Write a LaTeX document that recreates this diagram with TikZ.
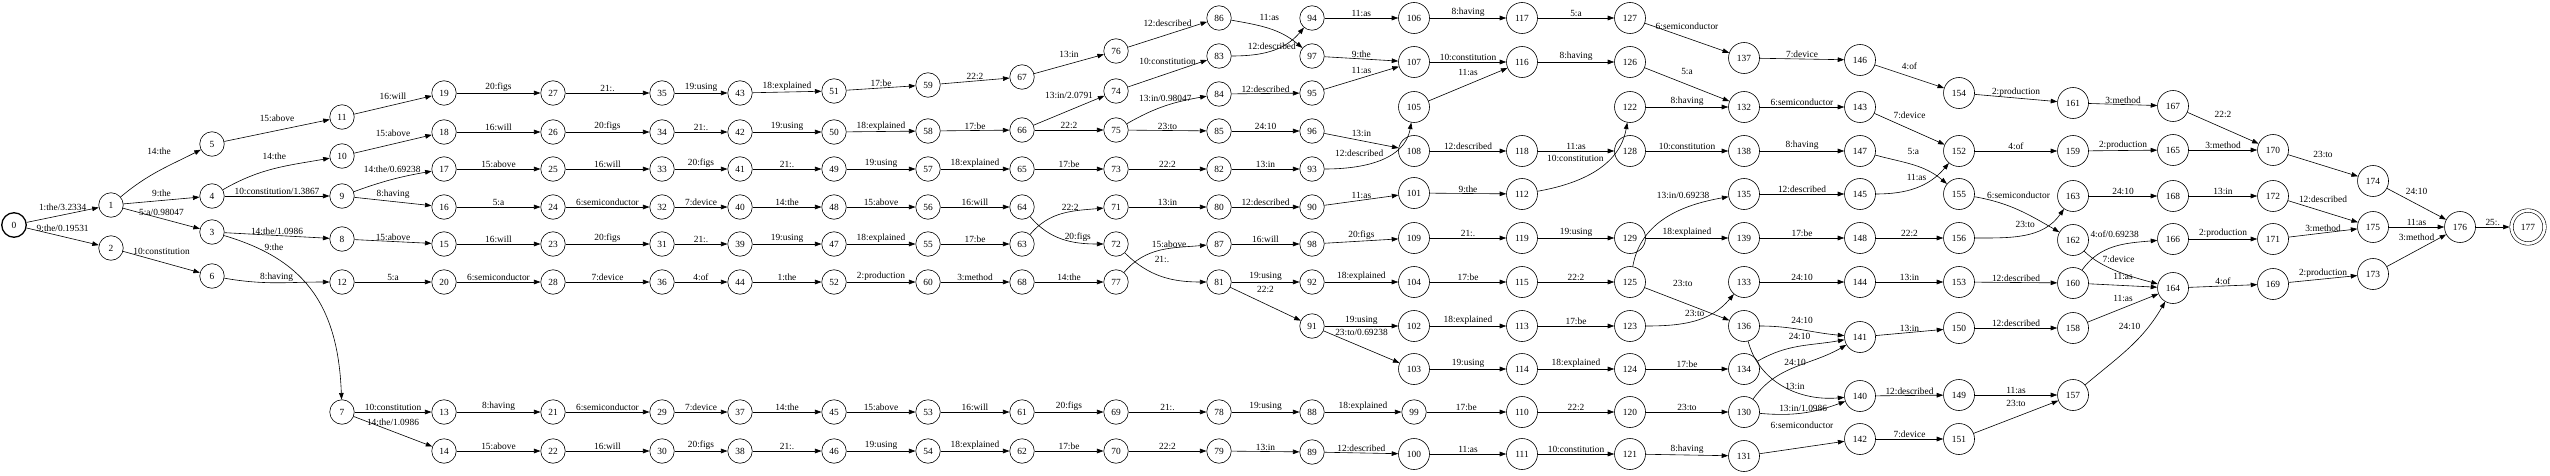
\documentclass[tikz,border=0pt]{standalone}
\usepackage{fontspec}
\setmainfont{Liberation Serif}
\usetikzlibrary{arrows.meta}

\begin{document}
\begin{tikzpicture}[x=1pt, y=1pt,
  font=\fontsize{9.4}{11}\selectfont,
  >={Triangle[length=6.5pt,width=4.6pt]},
  fststate/.style={draw, circle, minimum size=24.5pt, inner sep=0pt, line width=0.6pt},
  fstwide/.style={fststate, minimum size=31pt},
  startstate/.style={fststate, line width=1.3pt},
  finalstate/.style={fststate, minimum size=33pt, double, double distance=2.8pt, outer sep=2pt},
  trans/.style={->, line width=0.6pt},
  lbl/.style={above, inner sep=1pt}]
\useasboundingbox (0,0) rectangle (2550,475);
\node[startstate] (s0) at (14,250) {0};
\node[fststate] (s1) at (111,270) {1};
\node[fststate] (s2) at (111,227) {2};
\node[fststate] (s5) at (212,331) {5};
\node[fststate] (s4) at (212,279) {4};
\node[fststate] (s3) at (212,243) {3};
\node[fststate] (s6) at (212,199) {6};
\node[fststate] (s11) at (342,358) {11};
\node[fststate] (s10) at (342,319) {10};
\node[fststate] (s9) at (342,279) {9};
\node[fststate] (s8) at (342,236) {8};
\node[fststate] (s12) at (342,193) {12};
\node[fststate] (s7) at (342,63) {7};
\node[fststate] (s19) at (444,382) {19};
\node[fststate] (s18) at (444,343) {18};
\node[fststate] (s17) at (444,306) {17};
\node[fststate] (s16) at (444,268) {16};
\node[fststate] (s15) at (444,231) {15};
\node[fststate] (s20) at (444,193) {20};
\node[fststate] (s13) at (444,63) {13};
\node[fststate] (s14) at (444,24) {14};
\node[fststate] (s27) at (553,382) {27};
\node[fststate] (s26) at (553,343) {26};
\node[fststate] (s25) at (553,306) {25};
\node[fststate] (s24) at (553,268) {24};
\node[fststate] (s23) at (553,231) {23};
\node[fststate] (s28) at (553,193) {28};
\node[fststate] (s21) at (553,63) {21};
\node[fststate] (s22) at (553,24) {22};
\node[fststate] (s35) at (662,382) {35};
\node[fststate] (s34) at (662,343) {34};
\node[fststate] (s33) at (662,306) {33};
\node[fststate] (s32) at (662,268) {32};
\node[fststate] (s31) at (662,231) {31};
\node[fststate] (s36) at (662,193) {36};
\node[fststate] (s29) at (662,63) {29};
\node[fststate] (s30) at (662,24) {30};
\node[fststate] (s43) at (740,382) {43};
\node[fststate] (s42) at (740,343) {42};
\node[fststate] (s41) at (740,306) {41};
\node[fststate] (s40) at (740,268) {40};
\node[fststate] (s39) at (740,231) {39};
\node[fststate] (s44) at (740,193) {44};
\node[fststate] (s37) at (740,63) {37};
\node[fststate] (s38) at (740,24) {38};
\node[fststate] (s51) at (834,384) {51};
\node[fststate] (s50) at (834,343) {50};
\node[fststate] (s49) at (834,306) {49};
\node[fststate] (s48) at (834,268) {48};
\node[fststate] (s47) at (834,231) {47};
\node[fststate] (s52) at (834,193) {52};
\node[fststate] (s45) at (834,63) {45};
\node[fststate] (s46) at (834,24) {46};
\node[fststate] (s59) at (928,390) {59};
\node[fststate] (s58) at (928,344) {58};
\node[fststate] (s57) at (928,306) {57};
\node[fststate] (s56) at (928,268) {56};
\node[fststate] (s55) at (928,231) {55};
\node[fststate] (s60) at (928,193) {60};
\node[fststate] (s53) at (928,63) {53};
\node[fststate] (s54) at (928,24) {54};
\node[fststate] (s67) at (1022,398) {67};
\node[fststate] (s66) at (1022,345) {66};
\node[fststate] (s65) at (1022,306) {65};
\node[fststate] (s64) at (1022,268) {64};
\node[fststate] (s63) at (1022,231) {63};
\node[fststate] (s68) at (1022,193) {68};
\node[fststate] (s61) at (1022,63) {61};
\node[fststate] (s62) at (1022,24) {62};
\node[fststate] (s76) at (1116,424) {76};
\node[fststate] (s74) at (1116,384) {74};
\node[fststate] (s75) at (1116,345) {75};
\node[fststate] (s73) at (1116,306) {73};
\node[fststate] (s71) at (1116,268) {71};
\node[fststate] (s72) at (1116,231) {72};
\node[fststate] (s77) at (1116,193) {77};
\node[fststate] (s69) at (1116,63) {69};
\node[fststate] (s70) at (1116,24) {70};
\node[fststate] (s86) at (1219,457) {86};
\node[fststate] (s83) at (1219,419) {83};
\node[fststate] (s84) at (1219,381) {84};
\node[fststate] (s85) at (1219,344) {85};
\node[fststate] (s82) at (1219,306) {82};
\node[fststate] (s80) at (1219,268) {80};
\node[fststate] (s87) at (1219,231) {87};
\node[fststate] (s81) at (1219,193) {81};
\node[fststate] (s78) at (1219,63) {78};
\node[fststate] (s79) at (1219,24) {79};
\node[fststate] (s94) at (1312,457) {94};
\node[fststate] (s97) at (1312,419) {97};
\node[fststate] (s95) at (1312,382) {95};
\node[fststate] (s96) at (1312,344) {96};
\node[fststate] (s93) at (1312,306) {93};
\node[fststate] (s90) at (1312,268) {90};
\node[fststate] (s98) at (1312,231) {98};
\node[fststate] (s92) at (1312,193) {92};
\node[fststate] (s91) at (1312,149) {91};
\node[fststate] (s88) at (1312,63) {88};
\node[fststate] (s89) at (1312,23) {89};
\node[fstwide] (s106) at (1414,457) {106};
\node[fstwide] (s107) at (1414,413) {107};
\node[fstwide] (s105) at (1414,368) {105};
\node[fstwide] (s108) at (1414,324) {108};
\node[fstwide] (s101) at (1414,282) {101};
\node[fstwide] (s109) at (1414,237) {109};
\node[fstwide] (s104) at (1414,193) {104};
\node[fstwide] (s102) at (1414,149) {102};
\node[fstwide] (s103) at (1414,106) {103};
\node[fststate] (s99) at (1414,63) {99};
\node[fstwide] (s100) at (1414,21) {100};
\node[fstwide] (s117) at (1522,457) {117};
\node[fstwide] (s116) at (1522,413) {116};
\node[fstwide] (s118) at (1522,324) {118};
\node[fstwide] (s112) at (1522,281) {112};
\node[fstwide] (s119) at (1522,237) {119};
\node[fstwide] (s115) at (1522,193) {115};
\node[fstwide] (s113) at (1522,149) {113};
\node[fstwide] (s114) at (1522,106) {114};
\node[fstwide] (s110) at (1522,63) {110};
\node[fstwide] (s111) at (1522,21) {111};
\node[fstwide] (s127) at (1630,457) {127};
\node[fstwide] (s126) at (1630,413) {126};
\node[fstwide] (s122) at (1630,368) {122};
\node[fstwide] (s128) at (1630,324) {128};
\node[fstwide] (s129) at (1630,237) {129};
\node[fstwide] (s125) at (1630,193) {125};
\node[fstwide] (s123) at (1630,149) {123};
\node[fstwide] (s124) at (1630,106) {124};
\node[fstwide] (s120) at (1630,63) {120};
\node[fstwide] (s121) at (1630,21) {121};
\node[fstwide] (s137) at (1744,417) {137};
\node[fstwide] (s132) at (1744,368) {132};
\node[fstwide] (s138) at (1744,324) {138};
\node[fstwide] (s135) at (1744,281) {135};
\node[fstwide] (s139) at (1744,237) {139};
\node[fstwide] (s133) at (1744,193) {133};
\node[fstwide] (s136) at (1744,149) {136};
\node[fstwide] (s134) at (1744,106) {134};
\node[fstwide] (s130) at (1744,63) {130};
\node[fstwide] (s131) at (1744,19) {131};
\node[fstwide] (s146) at (1860,415) {146};
\node[fstwide] (s143) at (1860,368) {143};
\node[fstwide] (s147) at (1860,324) {147};
\node[fstwide] (s145) at (1860,281) {145};
\node[fstwide] (s148) at (1860,237) {148};
\node[fstwide] (s144) at (1860,193) {144};
\node[fstwide] (s141) at (1860,138) {141};
\node[fstwide] (s140) at (1860,79) {140};
\node[fstwide] (s142) at (1860,36) {142};
\node[fstwide] (s154) at (1959,382) {154};
\node[fstwide] (s152) at (1959,324) {152};
\node[fstwide] (s155) at (1959,281) {155};
\node[fstwide] (s156) at (1959,237) {156};
\node[fstwide] (s153) at (1959,193) {153};
\node[fstwide] (s150) at (1959,147) {150};
\node[fstwide] (s149) at (1959,80) {149};
\node[fstwide] (s151) at (1959,36) {151};
\node[fstwide] (s161) at (2073,372) {161};
\node[fstwide] (s159) at (2073,324) {159};
\node[fstwide] (s163) at (2073,279) {163};
\node[fstwide] (s162) at (2073,235) {162};
\node[fstwide] (s160) at (2073,192) {160};
\node[fstwide] (s158) at (2073,147) {158};
\node[fstwide] (s157) at (2073,80) {157};
\node[fstwide] (s167) at (2173,369) {167};
\node[fstwide] (s165) at (2173,325) {165};
\node[fstwide] (s168) at (2173,279) {168};
\node[fstwide] (s166) at (2173,236) {166};
\node[fstwide] (s164) at (2173,187) {164};
\node[fstwide] (s170) at (2273,325) {170};
\node[fstwide] (s172) at (2273,279) {172};
\node[fstwide] (s171) at (2273,236) {171};
\node[fstwide] (s169) at (2273,191) {169};
\node[fstwide] (s174) at (2373,294) {174};
\node[fstwide] (s175) at (2373,248) {175};
\node[fstwide] (s173) at (2373,201) {173};
\node[fstwide] (s176) at (2460,248) {176};
\node[finalstate] (s177) at (2528,248) {177};
\draw[trans] (s0) -- node[lbl, above=3pt] {1:the/3.2334} (s1);
\draw[trans] (s0) -- node[lbl, above=4pt] {9:the/0.19531} (s2);
\draw[trans] (s1) to[out=40, in=207] node[lbl, above=15pt] {14:the} (s5);
\draw[trans] (s1) -- node[lbl, above=3pt] {9:the} (s4);
\draw[trans] (s1) -- node[lbl, above=2pt] {5:a/0.98047} (s3);
\draw[trans] (s2) -- node[lbl, above=6pt] {10:constitution} (s6);
\draw[trans] (s5) -- node[lbl, above=8pt] {15:above} (s11);
\draw[trans] (s4) to[out=30, in=190] node[lbl, above=8pt] {14:the} (s10);
\draw[trans] (s4) -- node[lbl] {10:constitution/1.3867} (s9);
\draw[trans] (s3) -- node[lbl] {14:the/1.0986} (s8);
\draw[trans] (s3) .. controls (300,217) and (338,175) .. (s7) node[lbl, pos=0.25, above=5pt] {9:the};
\draw[trans] (s6) to[out=-10, in=180] node[lbl] {8:having} (s12);
\draw[trans] (s11) -- node[lbl, above=4pt] {16:will} (s19);
\draw[trans] (s10) -- node[lbl, above=6pt] {15:above} (s18);
\draw[trans] (s9) to[out=20, in=190] node[lbl, above=6pt] {14:the/0.69238} (s17);
\draw[trans] (s9) -- node[lbl, above=2pt] {8:having} (s16);
\draw[trans] (s8) -- node[lbl] {15:above} (s15);
\draw[trans] (s12) -- node[lbl] {5:a} (s20);
\draw[trans] (s7) -- node[lbl] {10:constitution} (s13);
\draw[trans] (s7) -- node[lbl, above=5pt] {14:the/1.0986} (s14);
\draw[trans] (s19) -- node[lbl] {20:figs} (s27);
\draw[trans] (s18) -- node[lbl] {16:will} (s26);
\draw[trans] (s17) -- node[lbl] {15:above} (s25);
\draw[trans] (s16) -- node[lbl] {5:a} (s24);
\draw[trans] (s15) -- node[lbl] {16:will} (s23);
\draw[trans] (s20) -- node[lbl] {6:semiconductor} (s28);
\draw[trans] (s13) -- node[lbl] {8:having} (s21);
\draw[trans] (s14) -- node[lbl] {15:above} (s22);
\draw[trans] (s27) -- node[lbl] {21:.} (s35);
\draw[trans] (s26) -- node[lbl] {20:figs} (s34);
\draw[trans] (s25) -- node[lbl] {16:will} (s33);
\draw[trans] (s24) -- node[lbl] {6:semiconductor} (s32);
\draw[trans] (s23) -- node[lbl] {20:figs} (s31);
\draw[trans] (s28) -- node[lbl] {7:device} (s36);
\draw[trans] (s21) -- node[lbl] {6:semiconductor} (s29);
\draw[trans] (s22) -- node[lbl] {16:will} (s30);
\draw[trans] (s35) -- node[lbl] {19:using} (s43);
\draw[trans] (s34) -- node[lbl] {21:.} (s42);
\draw[trans] (s33) -- node[lbl] {20:figs} (s41);
\draw[trans] (s32) -- node[lbl] {7:device} (s40);
\draw[trans] (s31) -- node[lbl] {21:.} (s39);
\draw[trans] (s36) -- node[lbl] {4:of} (s44);
\draw[trans] (s29) -- node[lbl] {7:device} (s37);
\draw[trans] (s30) -- node[lbl] {20:figs} (s38);
\draw[trans] (s43) -- node[lbl] {18:explained} (s51);
\draw[trans] (s42) -- node[lbl] {19:using} (s50);
\draw[trans] (s41) -- node[lbl] {21:.} (s49);
\draw[trans] (s40) -- node[lbl] {14:the} (s48);
\draw[trans] (s39) -- node[lbl] {19:using} (s47);
\draw[trans] (s44) -- node[lbl] {1:the} (s52);
\draw[trans] (s37) -- node[lbl] {14:the} (s45);
\draw[trans] (s38) -- node[lbl] {21:.} (s46);
\draw[trans] (s51) -- node[lbl] {17:be} (s59);
\draw[trans] (s50) -- node[lbl] {18:explained} (s58);
\draw[trans] (s49) -- node[lbl] {19:using} (s57);
\draw[trans] (s48) -- node[lbl] {15:above} (s56);
\draw[trans] (s47) -- node[lbl] {18:explained} (s55);
\draw[trans] (s52) -- node[lbl] {2:production} (s60);
\draw[trans] (s45) -- node[lbl] {15:above} (s53);
\draw[trans] (s46) -- node[lbl] {19:using} (s54);
\draw[trans] (s59) -- node[lbl] {22:2} (s67);
\draw[trans] (s58) -- node[lbl] {17:be} (s66);
\draw[trans] (s57) -- node[lbl] {18:explained} (s65);
\draw[trans] (s56) -- node[lbl] {16:will} (s64);
\draw[trans] (s55) -- node[lbl] {17:be} (s63);
\draw[trans] (s60) -- node[lbl] {3:method} (s68);
\draw[trans] (s53) -- node[lbl] {16:will} (s61);
\draw[trans] (s54) -- node[lbl] {18:explained} (s62);
\draw[trans] (s67) -- node[lbl, above=5pt] {13:in} (s76);
\draw[trans] (s66) -- node[lbl, above=11pt] {13:in/2.0791} (s74);
\draw[trans] (s66) -- node[lbl] {22:2} (s75);
\draw[trans] (s65) -- node[lbl] {17:be} (s73);
\draw[trans] (s63) to[out=50, in=185] node[lbl, pos=0.6] {22:2} (s71);
\draw[trans] (s64) to[out=-50, in=180] node[lbl, pos=0.7] {20:figs} (s72);
\draw[trans] (s68) -- node[lbl] {14:the} (s77);
\draw[trans] (s61) -- node[lbl] {20:figs} (s69);
\draw[trans] (s62) -- node[lbl] {17:be} (s70);
\draw[trans] (s76) -- node[lbl, above=7pt] {12:described} (s86);
\draw[trans] (s74) -- node[lbl, above=8pt] {10:constitution} (s83);
\draw[trans] (s75) to[out=30, in=190] node[lbl, above=3pt] {13:in/0.98047} (s84);
\draw[trans] (s75) -- node[lbl] {23:to} (s85);
\draw[trans] (s73) -- node[lbl] {22:2} (s82);
\draw[trans] (s71) -- node[lbl] {13:in} (s80);
\draw[trans] (s72) to[out=-45, in=180] node[lbl, above=12pt] {21:.} (s81);
\draw[trans] (s77) to[out=50, in=185] node[lbl, pos=0.6] {15:above} (s87);
\draw[trans] (s69) -- node[lbl] {21:.} (s78);
\draw[trans] (s70) -- node[lbl] {22:2} (s79);
\draw[trans] (s86) to[out=-10, in=140] node[lbl, above=7pt] {11:as} (s97);
\draw[trans] (s83) to[out=0, in=-130] node[lbl] {12:described} (s94);
\draw[trans] (s84) -- node[lbl] {12:described} (s95);
\draw[trans] (s85) -- node[lbl] {24:10} (s96);
\draw[trans] (s82) -- node[lbl] {13:in} (s93);
\draw[trans] (s80) -- node[lbl] {12:described} (s90);
\draw[trans] (s87) -- node[lbl] {16:will} (s98);
\draw[trans] (s81) -- node[lbl] {19:using} (s92);
\draw[trans] (s81) -- node[lbl, above=10pt] {22:2} (s91);
\draw[trans] (s78) -- node[lbl] {19:using} (s88);
\draw[trans] (s79) -- node[lbl] {13:in} (s89);
\draw[trans] (s94) -- node[lbl] {11:as} (s106);
\draw[trans] (s97) -- node[lbl] {9:the} (s107);
\draw[trans] (s95) -- node[lbl, above=3pt] {11:as} (s107);
\draw[trans] (s96) -- node[lbl, above=3pt] {13:in} (s108);
\draw[trans] (s93) to[out=0, in=-100] node[lbl, pos=0.55, anchor=south east] {12:described} (s105);
\draw[trans] (s90) -- node[lbl] {11:as} (s101);
\draw[trans] (s98) -- node[lbl] {20:figs} (s109);
\draw[trans] (s92) -- node[lbl] {18:explained} (s104);
\draw[trans] (s91) -- node[lbl] {19:using} (s102);
\draw[trans] (s91) -- node[lbl, above=10pt] {23:to/0.69238} (s103);
\draw[trans] (s88) -- node[lbl] {18:explained} (s99);
\draw[trans] (s89) -- node[lbl] {12:described} (s100);
\draw[trans] (s106) -- node[lbl] {8:having} (s117);
\draw[trans] (s107) -- node[lbl] {10:constitution} (s116);
\draw[trans] (s105) -- node[lbl, above=8pt] {11:as} (s116);
\draw[trans] (s108) -- node[lbl] {12:described} (s118);
\draw[trans] (s101) -- node[lbl] {9:the} (s112);
\draw[trans] (s109) -- node[lbl] {21:.} (s119);
\draw[trans] (s104) -- node[lbl] {17:be} (s115);
\draw[trans] (s102) -- node[lbl] {18:explained} (s113);
\draw[trans] (s103) -- node[lbl] {19:using} (s114);
\draw[trans] (s99) -- node[lbl] {17:be} (s110);
\draw[trans] (s100) -- node[lbl] {11:as} (s111);
\draw[trans] (s117) -- node[lbl] {5:a} (s127);
\draw[trans] (s116) -- node[lbl] {8:having} (s126);
\draw[trans] (s118) -- node[lbl] {11:as} (s128);
\draw[trans] (s112) to[out=10, in=-100] node[lbl, pos=0.6, anchor=south east] {10:constitution} (s122);
\draw[trans] (s119) -- node[lbl] {19:using} (s129);
\draw[trans] (s115) -- node[lbl] {22:2} (s125);
\draw[trans] (s113) -- node[lbl] {17:be} (s123);
\draw[trans] (s114) -- node[lbl] {18:explained} (s124);
\draw[trans] (s110) -- node[lbl] {22:2} (s120);
\draw[trans] (s111) -- node[lbl] {10:constitution} (s121);
\draw[trans] (s127) -- node[lbl, above=7pt] {6:semiconductor} (s137);
\draw[trans] (s126) -- node[lbl, above=9pt] {5:a} (s132);
\draw[trans] (s122) -- node[lbl] {8:having} (s132);
\draw[trans] (s128) -- node[lbl] {10:constitution} (s138);
\draw[trans] (s125) to[out=80, in=190] node[lbl, pos=0.65, above=9pt] {13:in/0.69238} (s135);
\draw[trans] (s129) -- node[lbl] {18:explained} (s139);
\draw[trans] (s125) -- node[lbl, pos=0.45, above=14pt] {23:to} (s136);
\draw[trans] (s123) to[out=0, in=-130] node[lbl, above=3pt] {23:to} (s133);
\draw[trans] (s124) -- node[lbl] {17:be} (s134);
\draw[trans] (s120) -- node[lbl] {23:to} (s130);
\draw[trans] (s121) -- node[lbl] {8:having} (s131);
\draw[trans] (s137) -- node[lbl] {7:device} (s146);
\draw[trans] (s132) -- node[lbl] {6:semiconductor} (s143);
\draw[trans] (s138) -- node[lbl] {8:having} (s147);
\draw[trans] (s135) -- node[lbl] {12:described} (s145);
\draw[trans] (s139) -- node[lbl] {17:be} (s148);
\draw[trans] (s133) -- node[lbl] {24:10} (s144);
\draw[trans] (s136) to[out=0, in=175] node[lbl, above=5pt] {24:10} (s141);
\draw[trans] (s134) to[out=30, in=190] node[lbl, above=5pt] {24:10} (s141);
\draw[trans] (s130) to[out=55, in=210] node[lbl] {24:10} (s141);
\draw[trans] (s136) to[out=-75, in=185] node[lbl, pos=0.6] {13:in} (s140);
\draw[trans] (s130) to[out=-5, in=200] node[lbl] {13:in/1.0986} (s140);
\draw[trans] (s131) -- node[lbl, above=18pt] {6:semiconductor} (s142);
\draw[trans] (s146) -- node[lbl, above=6pt] {4:of} (s154);
\draw[trans] (s143) -- node[lbl, above=9pt] {7:device} (s152);
\draw[trans] (s147) to[out=-15, in=140] node[lbl, above=9pt] {5:a} (s155);
\draw[trans] (s145) to[out=0, in=-130] node[lbl, above=6pt] {11:as} (s152);
\draw[trans] (s148) -- node[lbl] {22:2} (s156);
\draw[trans] (s144) -- node[lbl] {13:in} (s153);
\draw[trans] (s141) -- node[lbl] {13:in} (s150);
\draw[trans] (s140) -- node[lbl] {12:described} (s149);
\draw[trans] (s142) -- node[lbl] {7:device} (s151);
\draw[trans] (s154) -- node[lbl] {2:production} (s161);
\draw[trans] (s152) -- node[lbl] {4:of} (s159);
\draw[trans] (s155) to[out=-10, in=150] node[lbl, above=10pt] {6:semiconductor} (s162);
\draw[trans] (s156) to[out=0, in=-125] node[lbl, above=6pt] {23:to} (s163);
\draw[trans] (s153) -- node[lbl] {12:described} (s160);
\draw[trans] (s150) -- node[lbl] {12:described} (s158);
\draw[trans] (s149) -- node[lbl] {11:as} (s157);
\draw[trans] (s151) -- node[lbl, above=9pt] {23:to} (s157);
\draw[trans] (s161) -- node[lbl] {3:method} (s167);
\draw[trans] (s159) -- node[lbl] {2:production} (s165);
\draw[trans] (s163) -- node[lbl] {24:10} (s168);
\draw[trans] (s160) to[out=55, in=185] node[lbl, above=8pt] {4:of/0.69238} (s166);
\draw[trans] (s162) to[out=-45, in=165, looseness=0.8] node[lbl, above=8pt] {7:device} (s164);
\draw[trans] (s160) -- node[lbl, above=5pt] {11:as} (s164);
\draw[trans] (s158) -- node[lbl, above=5pt] {11:as} (s164);
\draw[trans] (s157) to[out=40, in=-120] node[lbl, above=16pt] {24:10} (s164);
\draw[trans] (s167) -- node[lbl, above=9pt] {22:2} (s170);
\draw[trans] (s165) -- node[lbl] {3:method} (s170);
\draw[trans] (s168) -- node[lbl] {13:in} (s172);
\draw[trans] (s166) -- node[lbl] {2:production} (s171);
\draw[trans] (s164) -- node[lbl] {4:of} (s169);
\draw[trans] (s170) -- node[lbl, above=7pt] {23:to} (s174);
\draw[trans] (s172) -- node[lbl, above=8pt] {12:described} (s175);
\draw[trans] (s171) -- node[lbl] {3:method} (s175);
\draw[trans] (s169) -- node[lbl] {2:production} (s173);
\draw[trans] (s174) -- node[lbl, above=8pt] {24:10} (s176);
\draw[trans] (s175) -- node[lbl] {11:as} (s176);
\draw[trans] (s173) -- node[lbl, above=9pt] {3:method} (s176);
\draw[trans] (s176) -- node[lbl] {25:.} (s177);
\end{tikzpicture}
\end{document}
